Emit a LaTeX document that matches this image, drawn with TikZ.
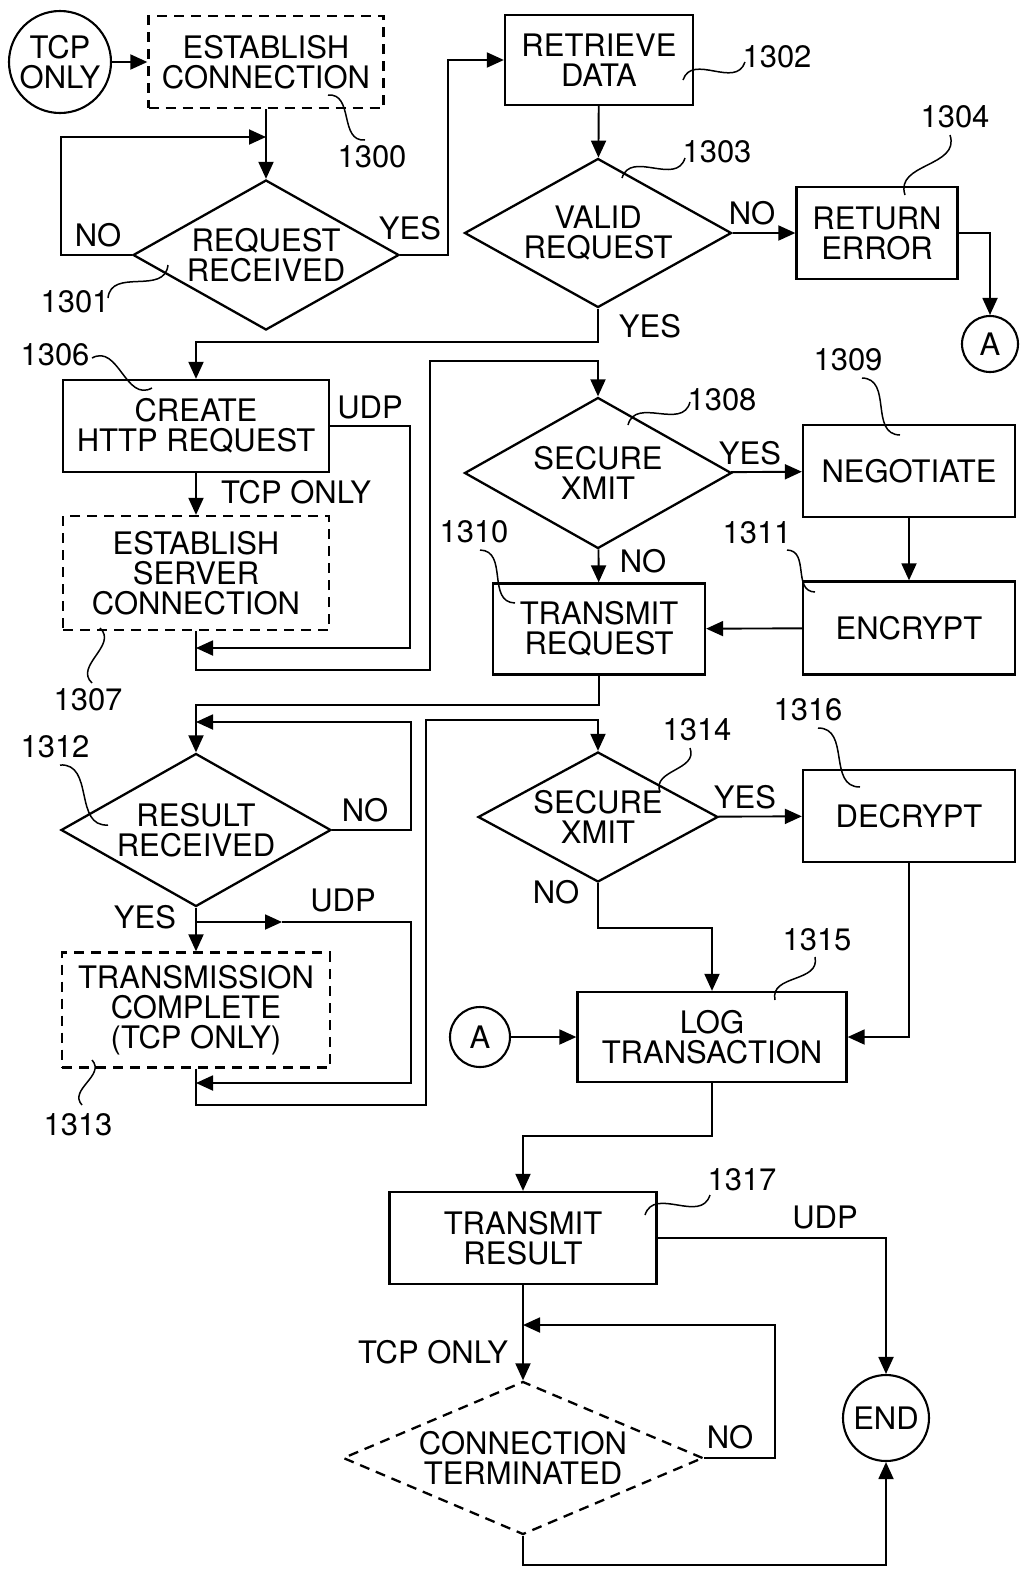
\documentclass[tikz,border=0pt]{standalone}
\usepackage{fontspec}
\setmainfont{TeX Gyre Heros}
\usetikzlibrary{shapes.geometric,arrows.meta,calc}
\begin{document}
\begin{tikzpicture}[x=1pt,y=-1pt,
  font=\fontsize{31}{30}\selectfont,
  >={Triangle[length=17pt,width=15pt]},
  box/.style={draw,line width=2.3pt,align=center,inner sep=2pt},
  dbox/.style={box,dash pattern=on 10pt off 7pt},
  dec/.style={draw,diamond,line width=2.3pt,align=center,inner sep=0pt},
  term/.style={draw,circle,line width=2.1pt,align=center,inner sep=0pt},
  flow/.style={line width=1.9pt},
  lbl/.style={inner sep=0pt},
  leader/.style={line width=1.5pt,to path={.. controls ($(\tikztostart)!0.45!55:(\tikztotarget)$) and ($(\tikztotarget)!0.45!55:(\tikztostart)$) .. (\tikztotarget)}}]
		\useasboundingbox (0,0) rectangle (1020,1572);
		% set up nodes
		\node[term,minimum size=102pt] (tcp) at (60,62) {TCP\\ONLY};
		\node[dbox,minimum width=235pt,minimum height=92pt] (estab) at (266,62) {ESTABLISH\\CONNECTION};
		\node[dec,aspect=1.77,minimum width=266pt,minimum height=150pt] (reqrcv) at (266,255) {REQUEST\\RECEIVED};
		\node[box,minimum width=188pt,minimum height=90pt] (retrieve) at (599,60) {RETRIEVE\\DATA};
		\node[dec,aspect=1.79,minimum width=267pt,minimum height=149pt] (valid) at (598,233) {VALID\\REQUEST};
		\node[box,minimum width=161pt,minimum height=92pt] (reterr) at (877,233) {RETURN\\ERROR};
		\node[term,minimum size=56pt] (a1) at (990,344) {A};
		\node[box,minimum width=266pt,minimum height=92pt] (create) at (196,426) {CREATE\\HTTP REQUEST};
		\node[dbox,minimum width=266pt,minimum height=114pt] (estsrv) at (196,573) {ESTABLISH\\SERVER\\CONNECTION};
		\node[dec,aspect=1.77,minimum width=267pt,minimum height=151pt] (secure1) at (598,473) {SECURE\\XMIT};
		\node[box,minimum width=212pt,minimum height=92pt] (nego) at (909,471) {NEGOTIATE};
		\node[box,minimum width=212pt,minimum height=93pt] (encrypt) at (909,628) {ENCRYPT};
		\node[box,minimum width=212pt,minimum height=91pt] (xmitreq) at (599,629) {TRANSMIT\\REQUEST};
		\node[dec,aspect=1.76,minimum width=270pt,minimum height=153pt] (resrcv) at (196,830) {RESULT\\RECEIVED};
		\node[dbox,minimum width=268pt,minimum height=115pt] (complete) at (196,1010) {TRANSMISSION\\COMPLETE\\(TCP ONLY)};
		\node[dec,aspect=1.85,minimum width=240pt,minimum height=130pt] (secure2) at (598,817) {SECURE\\XMIT};
		\node[box,minimum width=212pt,minimum height=92pt] (decrypt) at (909,816) {DECRYPT};
		\node[box,minimum width=269pt,minimum height=90pt] (logtx) at (712,1037) {LOG\\TRANSACTION};
		\node[term,minimum size=60pt] (a2) at (480,1037) {A};
		\node[box,minimum width=267pt,minimum height=92pt] (xmitres) at (523,1238) {TRANSMIT\\RESULT};
		\node[dec,dash pattern=on 10pt off 7pt,aspect=2.35,minimum width=360pt,minimum height=153pt] (connterm) at (523,1458) {CONNECTION\\TERMINATED};
		\node[term,minimum size=86pt] (finish) at (886,1418) {END};
		% reference numbers
		\node[lbl] (n1300) at (372,157) {1300};
		\node[lbl] (n1301) at (75,302) {1301};
		\node[lbl] (n1302) at (777,57) {1302};
		\node[lbl] (n1303) at (717,152) {1303};
		\node[lbl] (n1304) at (955,117) {1304};
		\node[lbl] (n1306) at (55,355) {1306};
		\node[lbl] (n1307) at (88,700) {1307};
		\node[lbl] (n1308) at (722,400) {1308};
		\node[lbl] (n1309) at (848,360) {1309};
		\node[lbl] (n1310) at (474,532) {1310};
		\node[lbl] (n1311) at (757,533) {1311};
		\node[lbl] (n1312) at (55,747) {1312};
		\node[lbl] (n1313) at (78,1125) {1313};
		\node[lbl] (n1314) at (697,730) {1314};
		\node[lbl] (n1315) at (817,940) {1315};
		\node[lbl] (n1316) at (808,710) {1316};
		\node[lbl] (n1317) at (742,1180) {1317};
		% branch labels
		\node[lbl] (no1) at (98,235) {NO};
		\node[lbl] (yes1) at (410,228) {YES};
		\node[lbl] (no2) at (752,213) {NO};
		\node[lbl] (yes2) at (650,326) {YES};
		\node[lbl] (udp1) at (370,407) {UDP};
		\node[lbl] (tcp1) at (296,492) {TCP ONLY};
		\node[lbl] (yes3) at (750,453) {YES};
		\node[lbl] (no3) at (643,561) {NO};
		\node[lbl] (no4) at (365,810) {NO};
		\node[lbl] (yes4) at (145,917) {YES};
		\node[lbl] (udp2) at (343,900) {UDP};
		\node[lbl] (yes5) at (745,797) {YES};
		\node[lbl] (no5) at (556,892) {NO};
		\node[lbl] (udp3) at (825,1217) {UDP};
		\node[lbl] (tcp2) at (433,1352) {TCP ONLY};
		\node[lbl] (no6) at (730,1437) {NO};
		% joints on lines
		\coordinate (j1) at (266,137);
		\coordinate (j2) at (196,648);
		\coordinate (j3) at (196,722);
		\coordinate (j4) at (196,922);
		\coordinate (j5) at (196,1083);
		\coordinate (j6) at (523,1325);
		\coordinate (mid) at (282,922);
		% connect them
		\draw[flow,->] (tcp) -- (estab);
		\draw[flow,->] (estab) -- (reqrcv);
		\draw[flow,->] (reqrcv.west) -- (61,255) |- (j1);
		\draw[flow,->] (reqrcv.east) -- (448,255) |- (retrieve.west);
		\draw[flow,->] (retrieve) -- (valid);
		\draw[flow,->] (valid) -- (reterr);
		\draw[flow,->] (reterr.east) -| (a1.north);
		\draw[flow,->] (valid.south) -- (598,342) -| (create.north);
		\draw[flow,->] (create) -- (estsrv);
		\draw[flow,->] (create.east) -- (410,426) |- (j2);
		\draw[flow,->] (estsrv.south) -- (196,670) -| (430,361) -| (secure1.north);
		\draw[flow,->] (secure1) -- (nego);
		\draw[flow,->] (nego) -- (encrypt);
		\draw[flow,->] (encrypt) -- (xmitreq);
		\draw[flow,->] (secure1) -- (xmitreq);
		\draw[flow,->] (xmitreq.south) -- (599,705) -| (resrcv.north);
		\draw[flow,->] (resrcv.east) -- (411,830) |- (j3);
		\draw[flow,->] (resrcv) -- (complete);
		\draw[flow,->] (j4) -- (mid);
		\draw[flow,->] (mid) -- (411,922) |- (j5);
		\draw[flow,->] (complete.south) -- (196,1105) -| (426,720) -| (secure2.north);
		\draw[flow,->] (secure2) -- (decrypt);
		\draw[flow,->] (secure2.south) -- (598,928) -| (logtx.north);
		\draw[flow,->] (decrypt.south) |- (logtx.east);
		\draw[flow,->] (a2) -- (logtx);
		\draw[flow,->] (logtx.south) -- (712,1136) -| (xmitres.north);
		\draw[flow,->] (xmitres.east) -| (finish.north);
		\draw[flow,->] (xmitres) -- (connterm);
		\draw[flow,->] (connterm.east) -- (775,1458) |- (j6);
		\draw[flow,->] (connterm.south) -- (523,1565) -| (finish.south);
		% leaders
		\draw[leader] (365,140) to (328,95);
		\draw[leader] (108,298) to (168,265);
		\draw[leader] (745,62) to (683,80);
		\draw[leader] (685,158) to (622,178);
		\draw[leader] (950,135) to (905,195);
		\draw[leader] (92,358) to (152,388);
		\draw[leader] (92,683) to (100,628);
		\draw[leader] (690,402) to (628,425);
		\draw[leader] (862,378) to (900,435);
		\draw[leader] (480,550) to (515,603);
		\draw[leader] (787,550) to (815,592);
		\draw[leader] (60,765) to (108,825);
		\draw[leader] (82,1105) to (92,1060);
		\draw[leader] (690,748) to (660,792);
		\draw[leader] (815,957) to (775,1000);
		\draw[leader] (818,728) to (860,787);
		\draw[leader] (710,1195) to (645,1215);
	\end{tikzpicture}
\end{document}
